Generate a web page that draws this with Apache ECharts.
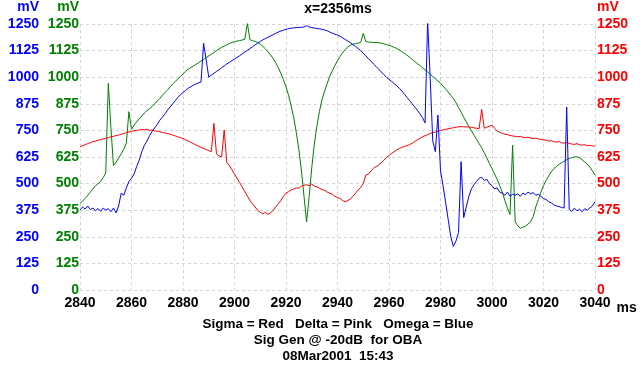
<!DOCTYPE html>
<html>
<head>
<meta charset="utf-8">
<script src="https://cdn.jsdelivr.net/npm/echarts@6/dist/echarts.min.js"></script>
<style>
html,body{margin:0;padding:0;background:#fff;}
#chart{width:644px;height:370px;}
</style>
</head>
<body>
<div id="chart"></div>
<script>
// sampling grid (ms)
const startMs = 2840;
const stepMs = 1;
const xTickValues = [2840, 2860, 2880, 2900, 2920, 2940, 2960, 2980, 3000, 3020, 3040];
const yTickValues = [0, 125, 250, 375, 500, 625, 750, 875, 1000, 1125, 1250];

// Sigma (red), mV, one value per ms from 2840 to 3040
const sigma = [
673,678,682,688,692,697,700,704,706,710,
713,716,720,722,726,728,732,735,740,742,
746,748,750,752,755,752,756,750,752,748,
746,744,740,738,735,732,728,724,720,716,
712,706,700,694,688,682,676,670,665,660,
655,650,783,640,630,625,752,600,585,565,
545,525,505,485,462,442,420,405,390,375,
365,358,365,355,362,375,390,405,420,440,
455,462,470,475,480,478,488,492,495,490,
498,488,485,478,472,468,460,455,450,440,
435,430,420,415,420,428,440,455,470,482,
500,540,545,560,572,580,587,598,610,622,
632,642,650,658,665,670,675,678,683,690,
698,706,712,720,725,730,735,740,742,746,
750,752,755,758,760,763,765,767,768,767,
766,767,764,762,760,758,849,760,765,770,
775,760,748,742,736,732,730,726,724,722,
720,722,718,716,718,714,712,713,710,708,
706,704,700,702,697,695,698,692,690,693,
689,686,684,688,682,681,683,678,680,677,
677
];

// Delta (green), mV
const delta = [
407,418,430,445,460,475,490,500,510,528,
550,971,763,585,600,620,640,662,690,838,
755,775,790,805,818,832,843,852,862,875,
888,900,915,928,940,955,968,980,992,1003,
1015,1028,1038,1045,1052,1060,1068,1076,1083,1092,
1100,1108,1116,1125,1133,1140,1146,1152,1158,1163,
1167,1170,1172,1175,1178,1253,1176,1172,1168,1163,
1155,1145,1133,1120,1105,1088,1068,1045,1018,988,
955,915,865,810,740,660,560,440,320,440,
575,685,770,840,895,935,970,1005,1030,1055,
1078,1098,1115,1130,1142,1150,1155,1158,1160,1163,
1206,1168,1165,1164,1163,1163,1162,1160,1157,1153,
1150,1146,1140,1135,1128,1120,1112,1103,1094,1084,
1074,1064,1055,1045,1035,1025,1014,1003,993,982,
972,958,945,930,915,900,880,858,836,812,
790,768,748,728,708,688,668,645,620,595,
570,545,520,490,460,420,385,355,681,320,
302,290,295,300,310,320,345,390,425,460,
490,515,535,555,570,580,590,598,605,612,
618,622,625,626,622,612,602,592,578,560,
540
];

// Omega (blue), mV
const omega = [
376,390,380,395,378,385,372,383,370,385,
376,382,368,385,362,395,455,445,480,510,
525,545,580,610,650,680,700,725,745,762,
778,798,812,828,845,860,875,890,905,918,
928,938,948,955,962,968,973,978,1159,1081,
1000,1010,1018,1027,1035,1045,1053,1062,1070,1078,
1086,1093,1101,1110,1118,1126,1135,1143,1152,1160,
1168,1175,1182,1188,1194,1200,1206,1212,1217,1221,
1225,1228,1230,1232,1233,1234,1234,1236,1242,1236,
1233,1231,1229,1227,1225,1222,1218,1212,1207,1202,
1198,1192,1185,1177,1170,1162,1153,1145,1135,1125,
1113,1100,1088,1075,1062,1050,1038,1025,1012,1000,
990,980,970,960,948,935,920,905,890,875,
860,845,828,810,785,1265,995,700,650,822,
560,490,410,330,250,205,230,270,603,340,
390,440,475,495,510,525,530,515,520,500,
490,475,480,460,455,445,460,440,450,445,
452,440,455,448,460,452,458,445,450,440,
430,425,415,410,400,395,392,388,385,860,
378,370,385,372,380,368,382,375,385,395,
415
];

const titleText = 'x=2356ms';
const footerLines = ['Sigma = Red   Delta = Pink   Omega = Blue', 'Sig Gen @ -20dB  for OBA', '08Mar2001  15:43'];

const BLUE = '#0000ff', GREEN = '#008000', RED = '#ff0000';
const FONT = '"Liberation Sans", Arial, sans-serif';

function pairs(arr) {
  return arr.map((v, i) => [startMs + i * stepMs, v]);
}
const plain = v => String(v);

const chart = echarts.init(document.getElementById('chart'), null, {renderer: 'canvas'});

function yAxisDef(color, position, offset, showSplit, align) {
  return {
    type: 'value', position: position, offset: offset,
    min: yTickValues[0], max: yTickValues[yTickValues.length - 1], interval: yTickValues[1] - yTickValues[0],
    axisLine: {show: false}, axisTick: {show: false},
    splitLine: {show: showSplit, lineStyle: {color: '#d4d4d4', type: [3, 3], width: 1}},
    axisLabel: {color: color, fontWeight: 'bold', fontSize: 14, fontFamily: FONT, margin: position === 'left' ? 1 : 2, formatter: plain},
    name: 'mV', nameLocation: 'end', nameGap: 10,
    nameTextStyle: {color: color, fontWeight: 'bold', fontSize: 14, fontFamily: FONT, align: align,
      padding: position === 'left' ? [0, 1, 0, 0] : [0, 0, 0, 2]}
  };
}

const option = {
  animation: false,
  backgroundColor: '#ffffff',
  grid: {left: 80, right: 49, top: 24, bottom: 80, containLabel: false},
  xAxis: {
    type: 'value', min: xTickValues[0], max: xTickValues[xTickValues.length - 1],
    interval: xTickValues[1] - xTickValues[0],
    axisLine: {show: false}, axisTick: {show: false},
    splitLine: {show: true, lineStyle: {color: '#d4d4d4', type: [3, 3], width: 1}},
    axisLabel: {color: '#000', fontWeight: 'bold', fontSize: 14, fontFamily: FONT, margin: 6, formatter: plain},
    name: 'ms', nameLocation: 'end', nameGap: 10,
    nameTextStyle: {color: '#000', fontWeight: 'bold', fontSize: 14, fontFamily: FONT, verticalAlign: 'top', padding: [11, 0, 0, 0]}
  },
  yAxis: [
    yAxisDef(BLUE, 'left', 40, false, 'right'),
    yAxisDef(GREEN, 'left', 0, true, 'right'),
    yAxisDef(RED, 'right', 0, false, 'left')
  ],
  series: [
    {name: 'Delta', type: 'line', yAxisIndex: 1, data: pairs(delta), showSymbol: false, symbol: 'none',
      lineStyle: {color: GREEN, width: 1}, itemStyle: {color: GREEN}},
    {name: 'Sigma', type: 'line', yAxisIndex: 2, data: pairs(sigma), showSymbol: false, symbol: 'none',
      lineStyle: {color: RED, width: 1}, itemStyle: {color: RED}},
    {name: 'Omega', type: 'line', yAxisIndex: 0, data: pairs(omega), showSymbol: false, symbol: 'none',
      lineStyle: {color: BLUE, width: 1}, itemStyle: {color: BLUE}}
  ],
  graphic: [
    {type: 'text', x: 338, y: 9, style: {text: titleText, fill: '#000', fontSize: 14, fontWeight: 'bold', fontFamily: FONT, align: 'center', verticalAlign: 'middle'}},
    {type: 'text', x: 338, y: 324, style: {text: footerLines[0], fill: '#000', fontSize: 13.5, fontWeight: 'bold', fontFamily: FONT, align: 'center', verticalAlign: 'middle'}},
    {type: 'text', x: 338, y: 340, style: {text: footerLines[1], fill: '#000', fontSize: 13.5, fontWeight: 'bold', fontFamily: FONT, align: 'center', verticalAlign: 'middle'}},
    {type: 'text', x: 338, y: 356, style: {text: footerLines[2], fill: '#000', fontSize: 13.5, fontWeight: 'bold', fontFamily: FONT, align: 'center', verticalAlign: 'middle'}}
  ]
};
chart.setOption(option);
</script>
</body>
</html>
